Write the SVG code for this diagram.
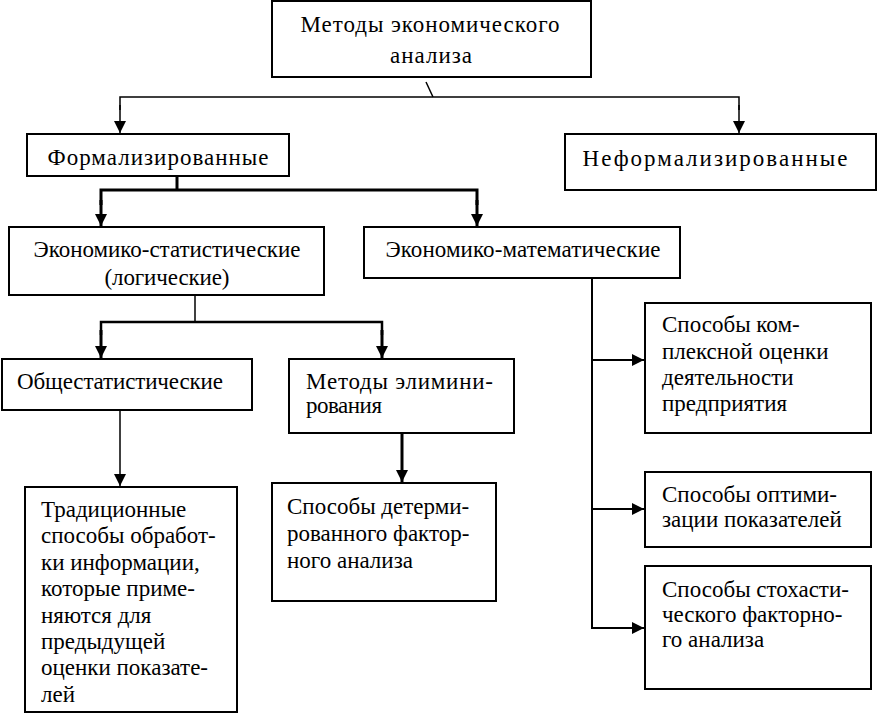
<svg xmlns="http://www.w3.org/2000/svg" width="882" height="714" viewBox="0 0 882 714" font-family="'Liberation Serif', 'Times New Roman', 'DejaVu Serif', serif">
<style>
.box{fill:#fff;stroke:#000;stroke-width:2}
text{font-family:'Liberation Serif','Times New Roman','DejaVu Serif',serif;font-size:23px;fill:#000}
.c{text-anchor:middle}
.ln{fill:none;stroke:#000;stroke-width:1.5}
.th{fill:none;stroke:#000;stroke-width:3}
.md{fill:none;stroke:#000;stroke-width:2}
</style>
<defs>
<marker id="a" markerUnits="userSpaceOnUse" markerWidth="12" markerHeight="14" refX="12" refY="6" orient="auto">
<path d="M0,0 L12,6 L0,12 Z" fill="#000"/>
</marker>
</defs>
<rect x="0" y="0" width="882" height="714" fill="#fff"/>
<g id="connectors">
<line class="ln" x1="426" y1="82" x2="433" y2="97"/>
<polyline class="ln" points="120,110 120,97 739,97 739,110"/>
<line class="ln" x1="739" y1="105" x2="739" y2="133" marker-end="url(#a)"/>
<line class="ln" x1="120" y1="105" x2="120" y2="133" marker-end="url(#a)"/>
<line class="th" x1="177" y1="176" x2="177" y2="190"/>
<polyline class="th" points="101,205 101,190 477,190 477,205"/>
<line class="th" x1="101" y1="200" x2="101" y2="226" marker-end="url(#a)"/>
<line class="th" x1="477" y1="200" x2="477" y2="226" marker-end="url(#a)"/>
<line class="ln" x1="195" y1="295" x2="195" y2="322"/>
<polyline class="md" points="101,335 101,322 382,322 382,335" style="stroke-width:2.5"/>
<line class="th" x1="101" y1="330" x2="101" y2="358" marker-end="url(#a)"/>
<line class="th" x1="382" y1="330" x2="382" y2="358" marker-end="url(#a)"/>
<line class="ln" x1="120" y1="410" x2="120" y2="486" marker-end="url(#a)"/>
<line class="th" x1="402" y1="433" x2="402" y2="482" marker-end="url(#a)"/>
<polyline class="md" points="592,278 592,628 610,628"/>
<line class="md" x1="592" y1="360" x2="644" y2="360" marker-end="url(#a)"/>
<line class="md" x1="592" y1="509" x2="644" y2="509" marker-end="url(#a)"/>
<line class="md" x1="600" y1="628" x2="644" y2="628" marker-end="url(#a)"/>
</g>
<g id="n-methods">
<rect class="box" x="272" y="1" width="319" height="76"/>
<text class="c" x="430" y="32" textLength="259">Методы экономического</text>
<text class="c" x="431" y="63" textLength="82">анализа</text>
</g>
<g id="n-formal">
<rect class="box" x="27" y="134" width="262" height="42"/>
<text class="c" x="158" y="165" textLength="221">Формализированные</text>
</g>
<g id="n-informal">
<rect class="box" x="565" y="134" width="311" height="56"/>
<text class="c" x="715" y="166" textLength="265">Неформализированные</text>
</g>
<g id="n-econstat">
<rect class="box" x="9" y="227" width="315" height="68"/>
<text class="c" x="167" y="257" textLength="267">Экономико-статистические</text>
<text class="c" x="167" y="285" textLength="125">(логические)</text>
</g>
<g id="n-econmath">
<rect class="box" x="364" y="227" width="316" height="51"/>
<text class="c" x="523" y="257" textLength="275">Экономико-математические</text>
</g>
<g id="n-obshch">
<rect class="box" x="2" y="359" width="250" height="51"/>
<text x="17" y="389" textLength="206">Общестатистические</text>
</g>
<g id="n-elim">
<rect class="box" x="289" y="359" width="225" height="74"/>
<text x="306" y="389" textLength="187">Методы элимини-</text>
<text x="306" y="413" textLength="76">рования</text>
</g>
<g id="n-trad">
<rect class="box" x="25" y="487" width="212" height="225"/>
<text x="41" y="517">Традиционные</text>
<text x="41" y="543">способы обработ-</text>
<text x="41" y="570">ки информации,</text>
<text x="41" y="596">которые приме-</text>
<text x="41" y="623">няются для</text>
<text x="41" y="649">предыдущей</text>
<text x="41" y="675">оценки показате-</text>
<text x="41" y="702">лей</text>
</g>
<g id="n-determ">
<rect class="box" x="272" y="483" width="224" height="118"/>
<text x="287" y="514">Способы детерми-</text>
<text x="287" y="541">рованного фактор-</text>
<text x="287" y="568">ного анализа</text>
</g>
<g id="n-kompl">
<rect class="box" x="645" y="303" width="226" height="130"/>
<text x="662" y="332">Способы ком-</text>
<text x="662" y="359">плексной оценки</text>
<text x="662" y="385">деятельности</text>
<text x="662" y="411">предприятия</text>
</g>
<g id="n-optim">
<rect class="box" x="645" y="472" width="226" height="75"/>
<text x="662" y="502">Способы оптими-</text>
<text x="662" y="527">зации показателей</text>
</g>
<g id="n-stoch">
<rect class="box" x="645" y="566" width="226" height="123"/>
<text x="662" y="597">Способы стохасти-</text>
<text x="662" y="622">ческого факторно-</text>
<text x="662" y="647">го анализа</text>
</g>
</svg>
